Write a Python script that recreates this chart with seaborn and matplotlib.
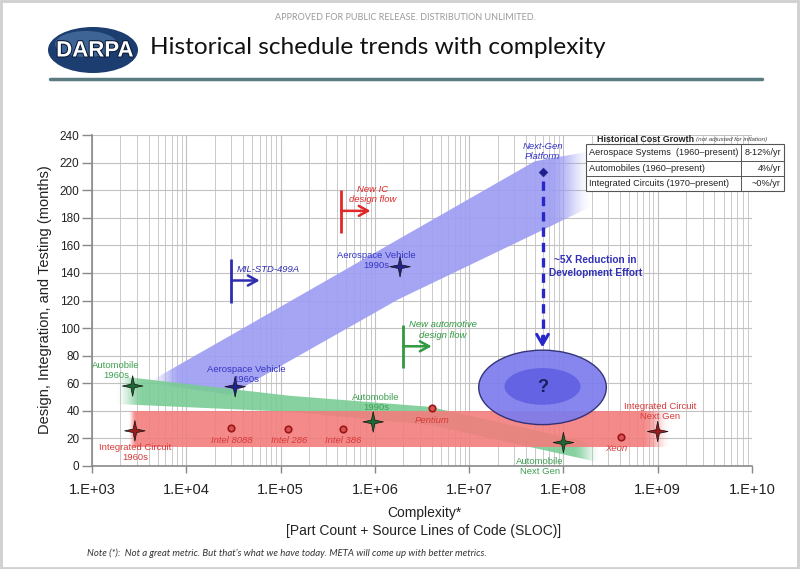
import numpy as np
import pandas as pd
import matplotlib
matplotlib.use('Agg')
import matplotlib.pyplot as plt
import seaborn as sns
from matplotlib.path import Path
from matplotlib.patches import Ellipse, Polygon, Rectangle
from matplotlib.lines import Line2D
from matplotlib.colors import to_rgb
import matplotlib.transforms as mtransforms
import matplotlib.patheffects as pe
from matplotlib.ticker import FixedLocator, NullFormatter

# ---------------- data ----------------
star_names = ['Automobile 1960s', 'Integrated Circuit 1960s', 'Aerospace Vehicle 1960s',
              'Automobile 1990s', 'Aerospace Vehicle 1990s', 'Automobile Next Gen',
              'Integrated Circuit Next Gen']
star_x = [2700, 2850, 33000, 9.6e5, 1.85e6, 1.0e8, 1.0e9]
star_y = [58, 25.5, 57.5, 32, 144.5, 17, 25]
star_kind = ['Automobile', 'Integrated Circuit', 'Aerospace', 'Automobile', 'Aerospace',
             'Automobile', 'Integrated Circuit']

chip_names = ['Intel 8088', 'Intel 286', 'Intel 386', 'Pentium', 'Xeon']
chip_x = [3.0e4, 1.2e5, 4.6e5, 4.0e6, 4.1e8]
chip_y = [27.5, 27, 27, 42, 21]

nextgen_x = [6.0e7]
nextgen_y = [213]

label_text = ['Automobile\n1960s', 'Aerospace Vehicle\n1960s', 'Integrated Circuit\n1960s',
              'Intel 8088', 'Intel 286', 'Intel 386', 'Automobile\n1990s',
              'Aerospace Vehicle\n1990s', 'Next-Gen\nPlatform', 'Pentium',
              'Automobile\nNext Gen', 'Xeon', 'Integrated Circuit\nNext Gen']
label_x = [1800, 4.3e4, 2900, 3.0e4, 1.23e5, 4.6e5, 1.03e6, 1.03e6, 6.0e7, 4.0e6, 5.6e7, 3.6e8, 1.05e9]
label_y = [69.5, 66, 9.5, 18.2, 18.2, 18.2, 45.8, 149, 228, 32.7, -0.7, 12.4, 39.3]
label_kind = ['Automobile', 'Aerospace', 'Integrated Circuit', 'Integrated Circuit',
              'Integrated Circuit', 'Integrated Circuit', 'Automobile', 'Aerospace',
              'Aerospace', 'Integrated Circuit', 'Automobile', 'Integrated Circuit',
              'Integrated Circuit']
label_italic = [False, False, False, True, True, True, False, False, True, True, False, True, False]

flow_text = ['MIL-STD-499A', 'New IC\ndesign flow', 'New automotive\ndesign flow']
flow_kind = ['Aerospace', 'Integrated Circuit', 'Automobile']
flow_x = [3.0e4, 4.4e5, 2.0e6]
flow_ylo = [118.5, 169, 71]
flow_yhi = [150, 200, 102]
flow_yarrow = [134.5, 185, 86.8]
flow_xend = [6.0e4, 9.0e5, 4.0e6]
flow_text_x = [3.45e4, 9.5e5, 5.3e6]
flow_text_y = [142.5, 196.7, 98.5]

blue_band_x = [3900, 2.9e4, 1.76e6, 5.0e7, 2.0e8]
blue_band_hi = [60.4, 94.4, 164.2, 221.0, 228.4]
blue_band_lo = [60.4, 51.6, 120.7, 168.4, 188.4]

green_band_x = [1750, 1.26e5, 3.84e6, 2.44e8]
green_band_hi = [65.5, 50.9, 42.9, 15.3]
green_band_lo = [45.0, 39.3, 29.8, 2.5]

red_band_x = [2400, 1.35e9]
red_band_hi = [40, 40]
red_band_lo = [14, 14]

future_x = 6.0e7
future_y = 57
future_outer = (1.354, 54)    # width in decades, height in months
future_inner = (0.806, 26.6)
reduction_top, reduction_bottom = 207, 86

xtick_vals = [1e3, 1e4, 1e5, 1e6, 1e7, 1e8, 1e9, 1e10]
xtick_labels = ['1.E+03', '1.E+04', '1.E+05', '1.E+06', '1.E+07', '1.E+08', '1.E+09', '1.E+10']
ytick_vals = list(range(0, 241, 20))

table_rows = ['Aerospace Systems  (1960\u2013present)', 'Automobiles (1960\u2013present)',
              'Integrated Circuits (1970\u2013present)']
table_vals = ['8-12%/yr', '4%/yr', '~0%/yr']

kind_dark = {'Automobile': '#1d6a33', 'Aerospace': '#22228c', 'Integrated Circuit': '#9a1c1c'}
kind_text = {'Automobile': '#3f9f50', 'Aerospace': '#3434c4', 'Integrated Circuit': '#d83a3a'}
kind_flow = {'Automobile': '#2f9a3f', 'Aerospace': '#2e2eb0', 'Integrated Circuit': '#e02828'}

# ---------------- figure ----------------
sns.set_theme(style='whitegrid')
plt.rcParams['font.family'] = ['Liberation Sans', 'DejaVu Sans']

W, H = 800, 569
fig = plt.figure(figsize=(8, 5.69), dpi=100)
fig.patch.set_facecolor('white')
def fx(px):
    return px / W
def fy(py):
    return 1 - py / H

ax = fig.add_axes([fx(92), fy(466), 660 / W, 331 / H])
ax.set_facecolor('white')
ax.set_xscale('log')

XL0, XL1, Y0, Y1 = 3.0, 10.0, 0.0, 240.0
T = mtransforms.Affine2D().translate(-XL0, -Y0).scale(1 / (XL1 - XL0), 1 / (Y1 - Y0)) + ax.transAxes

def smooth(t):
    t = np.clip(t, 0, 1)
    return t * t * (3 - 2 * t)

def band(xs, hi, lo, color, amax, fin, fout, z):
    u = np.log10(np.asarray(xs, float))
    hi = np.asarray(hi, float)
    lo = np.asarray(lo, float)
    verts = list(zip(u, hi)) + list(zip(u[::-1], lo[::-1]))
    poly = Polygon(verts, closed=True, transform=T)
    u0, u1 = u.min(), u.max()
    uu = np.linspace(u0, u1, 600)
    a = amax * smooth((uu - u0) / fin) * smooth((u1 - uu) / fout)
    rgba = np.zeros((2, uu.size, 4))
    rgba[..., :3] = to_rgb(color)
    rgba[..., 3] = a
    im = ax.imshow(rgba, extent=(u0, u1, lo.min(), hi.max()), transform=T, origin='lower',
                   aspect='auto', interpolation='bilinear', zorder=z)
    im.set_clip_path(poly)

band(blue_band_x, blue_band_hi, blue_band_lo, '#9d9df3', 0.92, 0.35, 0.45, 1.0)
band(green_band_x, green_band_hi, green_band_lo, '#79cc95', 0.9, 0.3, 0.3, 1.1)
band(red_band_x, red_band_hi, red_band_lo, '#f37d7d', 0.9, 0.08, 0.3, 1.2)

# future ellipse
cu = np.log10(future_x)
ax.add_artist(Ellipse((cu, future_y), future_outer[0], future_outer[1], transform=T,
                      facecolor='#7c7ced', edgecolor='#2a2a6e', lw=1.0, alpha=0.92, zorder=1.3))
ax.add_artist(Ellipse((cu, future_y + 0.7), future_inner[0], future_inner[1], transform=T,
                      facecolor='#5d5de2', edgecolor='none', alpha=0.85, zorder=1.35))
ax.text(future_x, future_y, '?', ha='center', va='center', fontsize=13, fontweight='bold',
        color='#1c1c5c', zorder=5)

# dashed reduction arrow
ax.plot([future_x, future_x], [reduction_top, reduction_bottom + 6], ls=(0, (2.8, 1.8)),
        lw=2.4, color='#2828c8', zorder=3)
ax.annotate('', xy=(future_x, reduction_bottom), xytext=(future_x, reduction_bottom + 8),
            arrowprops=dict(arrowstyle='->,head_width=0.35,head_length=0.6', lw=2.2,
                            color='#2828c8', shrinkA=0, shrinkB=0), zorder=3)
ax.text(2.2e8, 144.7, '~5X Reduction in\nDevelopment Effort', ha='center', va='center',
        fontsize=7.3, fontweight='bold', color='#3030b8', linespacing=1.35, zorder=5)

# star markers
star_path = Path([(0, 1), (0.17, 0.17), (1, 0), (0.17, -0.17), (0, -1), (-0.17, -0.17),
                  (-1, 0), (-0.17, 0.17), (0, 1)],
                 [Path.MOVETO] + [Path.LINETO] * 7 + [Path.CLOSEPOLY])
df_star = pd.DataFrame({'x': star_x, 'y': star_y, 'kind': star_kind, 'name': star_names})
sns.scatterplot(data=df_star, x='x', y='y', hue='kind', palette=kind_dark, marker=star_path,
                s=220, edgecolor='#111111', linewidth=0.5, legend=False, zorder=4, ax=ax)

df_chip = pd.DataFrame({'x': chip_x, 'y': chip_y, 'name': chip_names})
sns.scatterplot(data=df_chip, x='x', y='y', marker='o', s=22, color='#d85454',
                edgecolor='#9c1616', linewidth=1.2, legend=False, zorder=4, ax=ax)
sns.scatterplot(x=nextgen_x, y=nextgen_y, marker='D', s=20, color='#1e1e8c',
                edgecolor='#1e1e8c', legend=False, zorder=4, ax=ax)

# point labels
for t, x, y, k, it in zip(label_text, label_x, label_y, label_kind, label_italic):
    ax.text(x, y, t, ha='center', va='center', fontsize=6.8, color=kind_text[k],
            style='italic' if it else 'normal', linespacing=1.15, zorder=5, clip_on=False)

# design-flow markers
for t, k, x, ylo, yhi, ya, xe, tx, ty in zip(flow_text, flow_kind, flow_x, flow_ylo, flow_yhi,
                                              flow_yarrow, flow_xend, flow_text_x, flow_text_y):
    c = kind_flow[k]
    ax.plot([x, x], [ylo, yhi], color=c, lw=2.0, zorder=3, solid_capstyle='butt')
    ax.annotate('', xy=(xe, ya), xytext=(x, ya),
                arrowprops=dict(arrowstyle='->,head_width=0.3,head_length=0.55', lw=1.8,
                                color=c, shrinkA=0, shrinkB=0), zorder=3)
    ax.text(tx, ty, t, ha='left' if '\n' not in t else 'center', va='center', fontsize=6.8,
            style='italic', color=c, linespacing=1.2, zorder=5)

# axes
ax.set_xlim(1e3, 1e10)
ax.set_ylim(Y0, Y1)
ax.xaxis.set_major_locator(FixedLocator(xtick_vals))
ax.set_xticklabels(xtick_labels)
minor = [m * d for d in xtick_vals[:-1] for m in range(2, 10)]
ax.xaxis.set_minor_locator(FixedLocator(minor))
ax.xaxis.set_minor_formatter(NullFormatter())
ax.set_yticks(ytick_vals)
ax.set_axisbelow(True)
ax.grid(True, which='major', color='#c2c2c2', lw=0.8)
ax.grid(True, which='minor', axis='x', color='#cacaca', lw=0.7)
ax.tick_params(axis='x', which='major', length=5, width=1, color='#888888', pad=7,
               labelsize=10.5, labelcolor='#222222', bottom=True)
ax.tick_params(axis='x', which='minor', length=0)
ax.tick_params(axis='y', which='major', length=7, width=1, color='#888888', pad=2,
               labelsize=8.5, labelcolor='#222222', left=True)
for s in ['top', 'right']:
    ax.spines[s].set_visible(False)
for s in ['left', 'bottom']:
    ax.spines[s].set_color('#8a8a8a')
    ax.spines[s].set_linewidth(1.2)
ax.set_xlabel('')
ax.set_ylabel('')

fig.text(fx(45), fy(300), 'Design, Integration, and Testing (months)', rotation=90,
         ha='center', va='center', fontsize=10.5, color='#222222')
fig.text(fx(424), fy(522), 'Complexity*\n[Part Count + Source Lines of Code (SLOC)]',
         ha='center', va='center', fontsize=10, color='#222222', linespacing=1.35)

# cost-growth table
tl, tr, tc = 586, 784, 741
rows_y = [144, 161, 176, 191]
fig.add_artist(Rectangle((fx(tl), fy(rows_y[-1])), (tr - tl) / W, (rows_y[-1] - rows_y[0]) / H,
                         transform=fig.transFigure, facecolor='white', edgecolor='#555555',
                         lw=0.8, zorder=5))
for yy in rows_y[1:-1]:
    fig.add_artist(Line2D([fx(tl), fx(tr)], [fy(yy)] * 2, color='#555555', lw=0.7, zorder=6))
fig.add_artist(Line2D([fx(tc)] * 2, [fy(rows_y[0]), fy(rows_y[-1])], color='#555555', lw=0.7,
                      zorder=6))
for i, (r, v) in enumerate(zip(table_rows, table_vals)):
    yc = fy((rows_y[i] + rows_y[i + 1]) / 2)
    fig.text(fx(tl + 3), yc, r, ha='left', va='center', fontsize=6.6, color='#222222', zorder=7)
    fig.text(fx(tr - 3), yc, v, ha='right', va='center', fontsize=6.6, color='#222222', zorder=7)
fig.text(fx(597), fy(139), 'Historical Cost Growth', ha='left', va='center', fontsize=6.4,
         fontweight='bold', color='#222222', zorder=7)
fig.text(fx(696), fy(139.5), '(not adjusted for inflation)', ha='left', va='center',
         fontsize=4.6, style='italic', color='#444444', zorder=7)

# slide header
fig.text(fx(405), fy(17), 'APPROVED FOR PUBLIC RELEASE. DISTRIBUTION UNLIMITED.', ha='center',
         va='center', fontsize=6.5, color='#9a9a9a', family=['Lato', 'DejaVu Sans'])
fig.add_artist(Ellipse((fx(93), fy(50)), 90 / W, 46 / H, transform=fig.transFigure,
                       facecolor='#1c3d70', edgecolor='none', zorder=2))
fig.add_artist(Ellipse((fx(86), fy(44)), 62 / W, 26 / H, transform=fig.transFigure,
                       facecolor='#5a86b5', edgecolor='none', alpha=0.55, zorder=2))
fig.text(fx(95), fy(51), 'DARPA', ha='center', va='center', fontsize=16, fontweight='bold',
         color='white', zorder=3,
         path_effects=[pe.withStroke(linewidth=1.5, foreground='#0b1a38')])
fig.text(fx(150), fy(48), 'Historical schedule trends with complexity', ha='left', va='center',
         fontsize=17.6, color='#111111', family=['Lato', 'DejaVu Sans'])
fig.add_artist(Line2D([fx(50), fx(762)], [fy(79)] * 2, color='#5b7b82', lw=2.5))
fig.text(fx(87), fy(553), "Note (*):  Not a great metric. But that\u2019s what we have today. META will come up with better metrics.",
         ha='left', va='center', fontsize=6.9, style='italic', color='#333333',
         family=['Lato', 'DejaVu Sans'])
fig.add_artist(Rectangle((0.001, 0.002), 0.997, 0.996, transform=fig.transFigure,
                         facecolor='none', edgecolor='#cfcfcf', lw=2))

fig.savefig('out.png', dpi=100)
